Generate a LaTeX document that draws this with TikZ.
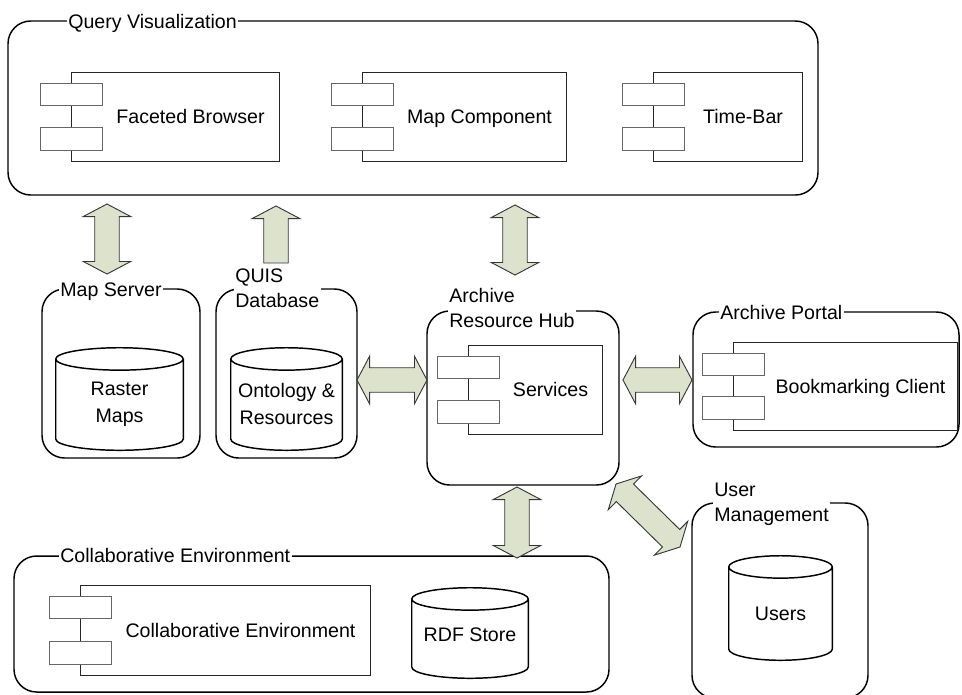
\documentclass[tikz,border=0pt]{standalone}
\usepackage{fontspec}
\setmainfont{Liberation Sans}
\usetikzlibrary{calc,fit}

\definecolor{arrowfill}{RGB}{221,226,205}
\definecolor{arrowline}{RGB}{55,55,55}

% block arrow geometry
\newcommand\arrHeadLen{9.4pt}
\newcommand\arrHeadHalf{17.8pt}
\newcommand\arrShaftHalf{9.2pt}
% half height of a drum's end ellipse
\newcommand\drumRy{8.4pt}

% double-headed block arrow between two tips
\newcommand\dblblock[2]{%
  \coordinate (ba) at ($(#1)!\arrHeadLen!(#2)$);
  \coordinate (bb) at ($(#2)!\arrHeadLen!(#1)$);
  \draw[blockarrow] (#1)
    -- ($(ba)!\arrHeadHalf!90:(#2)$) -- ($(ba)!\arrShaftHalf!90:(#2)$)
    -- ($(bb)!\arrShaftHalf!-90:(#1)$) -- ($(bb)!\arrHeadHalf!-90:(#1)$)
    -- (#2)
    -- ($(bb)!\arrHeadHalf!90:(#1)$) -- ($(bb)!\arrShaftHalf!90:(#1)$)
    -- ($(ba)!\arrShaftHalf!-90:(#2)$) -- ($(ba)!\arrHeadHalf!-90:(#2)$)
    -- cycle;}

% single-headed block arrow: flat tail at #1, tip at #2
\newcommand\oneblock[2]{%
  \coordinate (bb) at ($(#2)!\arrHeadLen!(#1)$);
  \draw[blockarrow] ($(#1)!\arrShaftHalf!90:(#2)$)
    -- ($(bb)!\arrShaftHalf!-90:(#1)$) -- ($(bb)!\arrHeadHalf!-90:(#1)$)
    -- (#2)
    -- ($(bb)!\arrHeadHalf!90:(#1)$) -- ($(bb)!\arrShaftHalf!90:(#1)$)
    -- ($(#1)!\arrShaftHalf!-90:(#2)$)
    -- cycle;}

% UML component: name, x1, y1, x2, y2, text
\newcommand\compunit[6]{%
  \node[compmain, fit={(#2,#3) (#4,#5)}] (#1) {};
  \node[comppart, fit={(#2-31,#3+11) (#2+31,#3+33.5)}] (#1-a) {};
  \node[comppart, fit={(#2-31,#5-33.5) (#2+31,#5-11)}] (#1-b) {};
  \node[txt, anchor=base] (#1-t) at ({(#2+31+#4)/2},{(#3+#5)/2+7}) {#6};}

% database drum drawn over a fitted node
\newcommand\drum[1]{%
  \draw[drumline] let \p1=($(#1.north east)-(#1.north west)$) in
    ([yshift=-\drumRy]#1.north west) -- ([yshift=\drumRy]#1.south west)
    arc[start angle=180,end angle=360,x radius=0.5*\x1,y radius=\drumRy]
    -- ([yshift=-\drumRy]#1.north east)
    arc[start angle=0,end angle=360,x radius=0.5*\x1,y radius=\drumRy];}

\begin{document}
\begin{tikzpicture}[x=0.75pt,y=-0.75pt,
  font=\fontsize{14.7}{18.75}\selectfont,
  outerbox/.style={draw=black,line width=1.1pt,rounded corners=17pt,inner sep=0pt},
  boxtitle/.style={fill=white,inner sep=1pt,anchor=base west},
  boxtitletwo/.style={fill=white,inner sep=1pt,anchor=north west,align=left},
  compmain/.style={draw=black!85,line width=0.75pt,inner sep=0pt},
  comppart/.style={draw=black!60,line width=0.75pt,fill=white,inner sep=0pt},
  txt/.style={inner sep=0pt,align=center},
  drumtxt/.style={inner sep=0pt,align=center,font=\fontsize{14.7}{20.2}\selectfont},
  drumfit/.style={inner sep=0pt},
  drumline/.style={draw=black,line width=1.1pt,fill=white},
  blockarrow/.style={draw=arrowline,fill=arrowfill,line width=0.7pt,line join=miter}]

\useasboundingbox (0,0) rectangle (962,694);

% ---- container boxes and their titles ----
\node[outerbox, fit={(8,21) (818,195)}] (qv) {};
\node[boxtitle] (qv-t) at (66.7,28) {Query Visualization};

\node[outerbox, fit={(42,289) (200,458)}] (ms) {};
\node[boxtitle] (ms-t) at (58.7,296) {Map Server};

\node[outerbox, fit={(216,289) (357,458)}] (quis) {};
\node[boxtitletwo] (quis-t) at (233.7,267.5) {QUIS\\Database};

\node[outerbox, fit={(427,311) (619,485)}] (hub) {};
\node[boxtitletwo] (hub-t) at (447.7,287) {Archive\\Resource Hub};

\node[outerbox, fit={(693,312) (959,447)}] (portal) {};
\node[boxtitle] (portal-t) at (718.7,319) {Archive Portal};

\node[outerbox, fit={(692,503) (868,698)}] (um) {};
\node[boxtitletwo] (um-t) at (712.7,481.7) {User\\Management};

\node[outerbox, fit={(14,556) (609,692)}] (collab) {};
\node[boxtitle] (collab-t) at (58.7,562) {Collaborative Environment};

% ---- components ----
\compunit{fb}{71}{72}{279}{161}{Faceted Browser}
\compunit{mc}{362}{72}{566}{161}{Map Component}
\compunit{tb}{653}{72}{802}{161}{Time-Bar}
\compunit{svc}{468}{345}{602}{434}{Services}
\compunit{bm}{733}{342}{957}{430}{Bookmarking Client}
\compunit{ce}{80}{585}{370}{675}{Collaborative Environment}

% ---- data stores ----
\node[drumfit, fit={(56,348) (183,450)}] (raster) {};
\drum{raster}
\node[drumtxt] (raster-t) at (119.5,404) {Raster\\Maps};

\node[drumfit, fit={(231,348) (342,450)}] (onto) {};
\drum{onto}
\node[drumtxt] (onto-t) at (286.5,404) {Ontology \&\\Resources};

\node[drumfit, fit={(729,556) (832,660)}] (users) {};
\drum{users}
\node[drumtxt, anchor=base] (users-t) at (780.5,620) {Users};

\node[drumfit, fit={(412,588) (528,678)}] (rdf) {};
\drum{rdf}
\node[drumtxt, anchor=base] (rdf-t) at (470,641) {RDF Store};

% ---- arrow end points ----
\coordinate (ms-up)   at (107,204);
\coordinate (ms-dn)   at (107,274);
\coordinate (quis-up) at (276,206);
\coordinate (quis-dn) at (276,263);
\coordinate (hub-up)  at (515,205);
\coordinate (hub-dn)  at (515,275);
\coordinate (qh-l)    at (357,380);
\coordinate (qh-r)    at (427,380);
\coordinate (hp-l)    at (623,380);
\coordinate (hp-r)    at (692,380);
\coordinate (hc-up)   at (517,487);
\coordinate (hc-dn)   at (517,558);
\coordinate (hu-a)    at (616,484);
\coordinate (hu-b)    at (680,547);

% ---- block arrows ----
\dblblock{ms-up}{ms-dn}
\oneblock{quis-dn}{quis-up}
\dblblock{hub-up}{hub-dn}
\dblblock{qh-l}{qh-r}
\dblblock{hp-l}{hp-r}
\dblblock{hc-up}{hc-dn}
\dblblock{hu-a}{hu-b}
\end{tikzpicture}
\end{document}
